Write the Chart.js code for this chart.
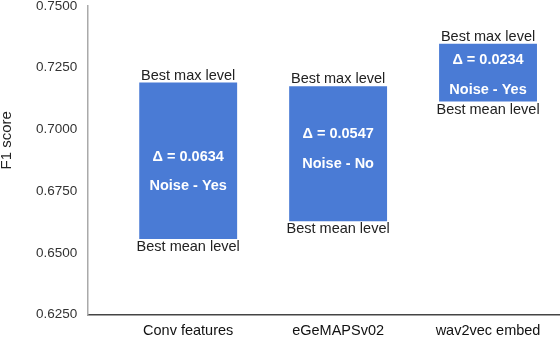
<!DOCTYPE html>
<html>
<head>
<meta charset="utf-8">
<script src="https://cdn.jsdelivr.net/npm/chart.js@4/dist/chart.umd.min.js"></script>
<style>
  html, body { margin: 0; padding: 0; background: #fff; overflow: hidden; }
  #wrap { width: 560px; height: 338px; }
</style>
</head>
<body>
<div id="wrap"><canvas id="grafico" width="560" height="338"></canvas></div>
<script>
// data
const categories = ['Conv features', 'eGeMAPSv02', 'wav2vec embed'];
const bestMean = [0.6556, 0.6628, 0.7113];
const bestMax = [0.7190, 0.7175, 0.7347];
const deltas = ['0.0634', '0.0547', '0.0234'];
const noise = ['Yes', 'No', 'Yes'];
const yTicks = [0.625, 0.65, 0.675, 0.7, 0.725, 0.75];

// where the two white lines sit inside each bar (fraction from the top)
const innerPos = [[0.476, 0.659], [0.356, 0.579], [0.28, 0.80]];

const FONT = '"Liberation Sans", Arial, Helvetica, sans-serif';

const barTexts = {
    id: 'barTexts',
    afterDatasetsDraw(chart) {
        const ctx = chart.ctx;
        const meta = chart.getDatasetMeta(0);
        ctx.save();
        ctx.textAlign = 'center';
        ctx.textBaseline = 'middle';
        meta.data.forEach((bar, i) => {
            const p = bar.getProps(['x', 'y', 'base'], true);
            const top = Math.min(p.y, p.base);
            const bottom = Math.max(p.y, p.base);
            const h = bottom - top;
            ctx.fillStyle = '#222';
            ctx.font = '14.5px ' + FONT;
            ctx.fillText('Best max level', p.x, top - 7);
            ctx.fillText('Best mean level', p.x, bottom + 8);
            ctx.fillStyle = '#fff';
            ctx.font = 'bold 14.5px ' + FONT;
            ctx.fillText('\u0394 = ' + deltas[i], p.x, top + h * innerPos[i][0]);
            ctx.fillText('Noise - ' + noise[i], p.x, top + h * innerPos[i][1]);
        });
        // y axis title, sits a bit above the middle in the original
        const area = chart.chartArea;
        ctx.translate(7, (area.top + area.bottom) / 2 - 20);
        ctx.rotate(-Math.PI / 2);
        ctx.fillStyle = '#222';
        ctx.font = '15px ' + FONT;
        ctx.fillText('F1 score', 0, 0);
        ctx.restore();
    }
};

window.addEventListener('load', function () {
    const ctx = document.getElementById('grafico').getContext('2d');
    new Chart(ctx, {
        type: 'bar',
        data: {
            datasets: [{
                data: categories.map((c, i) => ({ x: i, y: [bestMean[i], bestMax[i]] })),
                backgroundColor: '#4a7bd5',
                borderWidth: 0,
                barPercentage: 0.653,
                categoryPercentage: 1
            }]
        },
        options: {
            responsive: false,
            animation: false,
            layout: { padding: { left: 26, top: 0, right: 0, bottom: -10 } },
            plugins: {
                legend: { display: false },
                tooltip: { enabled: false }
            },
            scales: {
                x: {
                    type: 'linear',
                    offset: false,
                    min: -0.673,
                    max: 2.48,
                    grid: { display: false, drawTicks: false, offset: false },
                    border: { display: true, color: '#444', width: 1.5 },
                    afterBuildTicks: (scale) => {
                        scale.ticks = categories.map((c, i) => ({ value: i }));
                    },
                    ticks: {
                        padding: 8,
                        autoSkip: false,
                        maxRotation: 0,
                        color: '#111',
                        font: { family: FONT, size: 14.5 },
                        callback: (v) => categories[v]
                    }
                },
                y: {
                    min: 0.625,
                    max: 0.75,
                    grid: { display: false, drawTicks: false },
                    border: { display: true, color: '#aaa', width: 1.5 },
                    afterBuildTicks: (scale) => {
                        scale.ticks = yTicks.map(v => ({ value: v }));
                    },
                    afterFit: (scale) => {
                        scale.paddingTop = 6;
                    },
                    ticks: {
                        padding: 10,
                        color: '#333',
                        font: { family: FONT, size: 13.5 },
                        callback: (v) => v.toFixed(4)
                    }
                }
            }
        },
        plugins: [barTexts]
    });
});
</script>
</body>
</html>
